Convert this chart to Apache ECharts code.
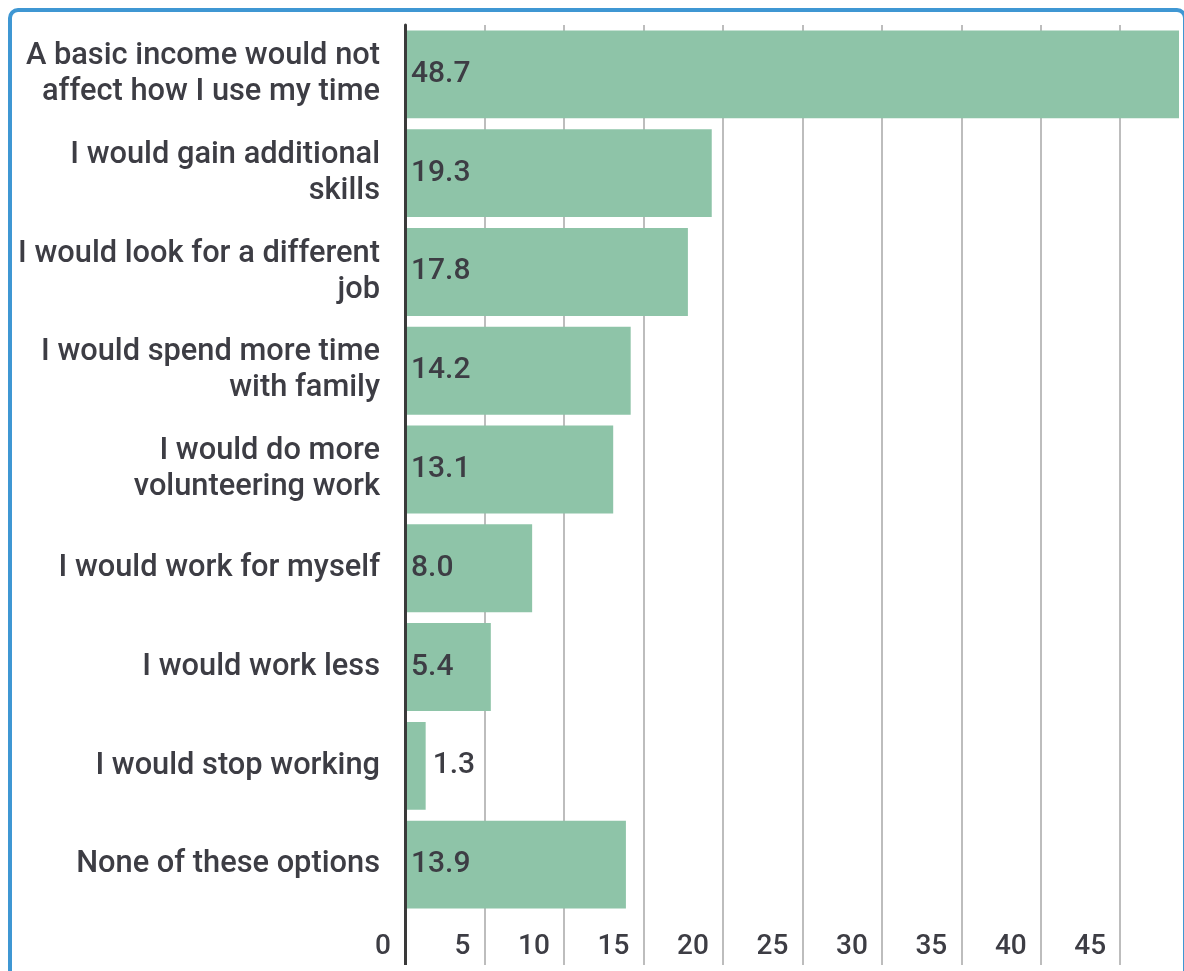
<!DOCTYPE html>
<html>
<head>
<meta charset="utf-8">
<script src="https://cdn.jsdelivr.net/npm/echarts@6/dist/echarts.min.js"></script>
<style>
html,body{margin:0;padding:0;background:#fff;}
#chart{position:absolute;left:0;top:0;width:1184px;height:971px;}
#frame{position:absolute;left:8px;top:8px;width:1171px;height:1000px;border:4px solid #3f97d3;border-radius:10px;pointer-events:none;}
</style>
</head>
<body>
<div id="chart"></div>
<div id="frame"></div>
<script>
const categories = [
  'A basic income would not\naffect how I use my time',
  'I would gain additional\nskills',
  'I would look for a different\njob',
  'I would spend more time\nwith family',
  'I would do more\nvolunteering work',
  'I would work for myself',
  'I would work less',
  'I would stop working',
  'None of these options'
];
const values = [48.7, 19.3, 17.8, 14.2, 13.1, 8.0, 5.4, 1.3, 13.9];
const tickValues = [0, 5, 10, 15, 20, 25, 30, 35, 40, 45];

const textColor = '#3d3d44';
const fontFamily = 'Roboto';
const xMax = Math.max.apply(null, values);

const chart = echarts.init(document.getElementById('chart'));
chart.setOption({
  animation: false,
  grid: { left: 405, right: 5, top: 25, height: 889, containLabel: false },
  xAxis: [
    {
      type: 'value', min: 0, max: xMax, interval: 5,
      axisLine: { show: false },
      splitLine: { show: true, lineStyle: { color: '#bdbdbd', width: 2 } },
      axisTick: { show: true, customValues: tickValues.slice(1), length: 51, lineStyle: { color: '#bdbdbd', width: 2 } },
      axisLabel: {
        customValues: tickValues, align: 'right', padding: [0, 14, 0, 0], margin: 19,
        color: textColor, fontFamily: fontFamily, fontSize: 28, fontWeight: 500,
        formatter: v => v.toFixed(0)
      }
    },
    {
      type: 'value', min: 0, max: xMax, position: 'bottom',
      axisLine: { show: false }, splitLine: { show: false }, axisLabel: { show: false },
      axisTick: { show: true, customValues: [0], length: 51, lineStyle: { color: '#3a3a3a', width: 3 } }
    }
  ],
  yAxis: {
    type: 'category', data: categories, inverse: true,
    axisLine: { show: true, lineStyle: { color: '#3a3a3a', width: 3 } },
    axisTick: { show: false },
    splitLine: { show: false },
    axisLabel: {
      margin: 25, color: textColor, fontFamily: fontFamily, fontSize: 30.8, fontWeight: 500,
      lineHeight: 36, align: 'right'
    },
    z: 5
  },
  series: [{
    type: 'bar',
    xAxisIndex: 0,
    barCategoryGap: '11%',
    itemStyle: { color: '#8ec4a8' },
    label: {
      show: true, position: 'insideLeft', distance: 6,
      color: textColor, fontFamily: fontFamily, fontSize: 30, fontWeight: 500,
      formatter: p => p.value.toFixed(1)
    },
    data: values.map(v => v < 3
      ? { value: v, label: { position: 'right', distance: 7 } }
      : v)
  }]
});
</script>
</body>
</html>
